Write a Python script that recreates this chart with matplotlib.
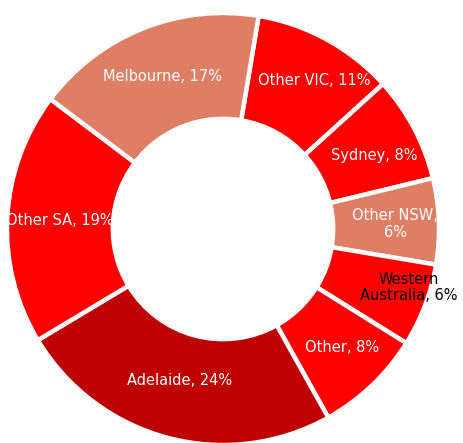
import numpy as np
import matplotlib
matplotlib.use("Agg")
import matplotlib.pyplot as plt

regions = ["Other VIC", "Sydney", "Other NSW", "Western\nAustralia",
           "Other", "Adelaide", "Other SA", "Melbourne"]
shares = [10.6, 7.9, 6.4, 6.2, 8.0, 24.4, 18.8, 17.3]
label_breaks = [", ", ", ", ",\n", ", ", ", ", ", ", ", ", ", "]

RED = "#FE0000"
SALMON = "#DE7E65"
DARK = "#BE0000"
colors = [RED, RED, SALMON, RED, RED, DARK, RED, SALMON]

# small pixel nudges so labels sit where the original put them
nudges = [(10, 1), (2, -5), (4, -1), (0, 12), (3, 3), (0, 11), (5, 0), (2, -4)]

fig = plt.figure(figsize=(4.63, 4.43), dpi=100)
ax = fig.add_axes([0, 0, 1, 1])

wedges, _ = ax.pie(shares, colors=colors, startangle=80.5, counterclock=False,
                   radius=1.0,
                   wedgeprops=dict(width=0.49, edgecolor="white", linewidth=3.2))

for w, name, brk, v, (nx, ny) in zip(wedges, regions, label_breaks, shares, nudges):
    mid = np.deg2rad((w.theta1 + w.theta2) / 2)
    r = 0.78
    col = "white"
    if name.startswith("Western"):
        r = 0.92
        col = "black"
    ax.annotate(f"{name}{brk}{v:.0f}%", (r * np.cos(mid), r * np.sin(mid)),
                xytext=(nx * 0.72, ny * 0.72), textcoords="offset points",
                ha="center", va="center", fontsize=10.5, color=col,
                family="DejaVu Sans", linespacing=1.1)

ax.set_xlim(-223 / 216, 240 / 216)
ax.set_ylim(-214 / 216, 229 / 216)
ax.set_aspect("auto")
ax.axis("off")

fig.savefig("out.png", dpi=100, facecolor="white")
